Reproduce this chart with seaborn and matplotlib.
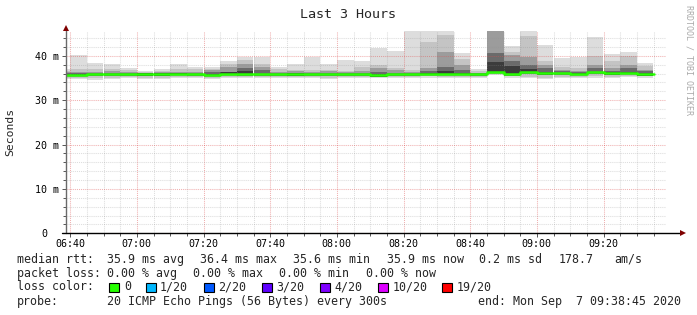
import matplotlib
matplotlib.use("Agg")
import matplotlib.pyplot as plt
import numpy as np
import seaborn as sns
from matplotlib.patches import Rectangle
from matplotlib.transforms import ScaledTranslation

# ---------------- data ----------------
title = "Last 3 Hours"
y_label = "Seconds"
first_bar = "06:35"          # start of first (clipped) 300 s step
step_min = 5                 # probe step: 300 s
view_start = "06:38:45"
view_end = "09:38:45"
y_top = 45.6                 # ms

# median rtt per step (ms)
med = [35.75, 35.75, 35.8, 35.8, 35.85, 35.9, 35.9, 35.95, 35.85, 35.75, 35.95, 35.85,
       35.85, 35.8, 35.9, 35.8, 35.8, 35.85, 35.8, 35.65, 35.8, 35.8, 35.95, 35.95,
       36.0, 35.8, 36.35, 35.85, 36.3, 36.2, 36.05, 35.95, 36.25, 36.1, 36.2, 35.9]
# smoke layers (outer -> inner): upper bounds (ms)
hi1 = [37.0, 40.2, 38.45, 38.15, 37.3, 36.65, 36.95, 38.15, 37.55, 37.4, 38.9, 39.65,
       39.65, 37.55, 38.15, 39.8, 38.15, 39.1, 38.9, 41.8, 41.1, 45.5, 45.5, 45.5,
       40.6, 37.0, 45.5, 42.3, 45.5, 42.45, 39.6, 39.8, 44.2, 40.4, 40.9, 38.45]
hi2 = [36.5, 36.95, 36.95, 36.95, 36.7, 36.4, 36.6, 36.95, 36.95, 36.95, 38.15, 39.05,
       38.15, 36.95, 36.8, 36.8, 36.8, 36.6, 37.4, 37.9, 37.2, 36.8, 43.2, 44.7,
       39.4, 36.5, 45.5, 40.9, 44.4, 38.9, 37.55, 37.25, 40.0, 38.85, 40.0, 37.7]
hi3 = [36.3, 36.4, 36.4, 36.5, 36.3, 36.2, 36.3, 36.4, 36.3, 36.8, 37.4, 38.2,
       37.55, 36.4, 36.5, 36.3, 36.5, 36.3, 36.6, 37.35, 36.8, 36.4, 37.2, 40.9,
       37.9, 36.2, 45.5, 40.1, 39.65, 37.9, 36.9, 36.6, 38.0, 37.2, 38.0, 36.9]
hi4 = [36.1, 36.2, 36.2, 36.2, 36.2, 36.1, 36.2, 36.2, 36.2, 36.3, 36.45, 37.25,
       36.8, 36.2, 36.2, 36.2, 36.2, 36.2, 36.2, 36.45, 36.2, 36.2, 36.6, 37.55,
       36.9, 36.2, 40.6, 38.8, 37.9, 37.25, 36.5, 36.4, 37.25, 36.6, 37.25, 36.6]
hi5 = [35.9, 35.9, 35.95, 35.95, 36.0, 36.05, 36.05, 36.1, 36.0, 35.9, 36.4, 36.6,
       36.0, 35.95, 36.05, 35.95, 35.95, 36.0, 35.95, 35.8, 35.95, 35.95, 36.1, 36.6,
       36.15, 35.95, 38.6, 37.7, 37.0, 36.35, 36.2, 36.1, 36.4, 36.25, 36.35, 36.05]
# lower bounds (ms)
lo1 = [34.8, 34.7, 34.55, 34.7, 34.9, 34.8, 34.8, 35.1, 34.9, 34.8, 35.0, 35.0,
       34.9, 35.0, 34.9, 35.0, 34.8, 35.0, 34.9, 35.0, 35.0, 35.0, 35.1, 34.9,
       35.0, 34.9, 35.6, 35.1, 34.9, 34.8, 35.0, 34.9, 35.1, 34.9, 35.2, 35.1]
lo2 = [35.1, 35.0, 34.9, 35.0, 35.2, 35.1, 35.1, 35.3, 35.2, 35.1, 35.3, 35.3,
       35.2, 35.3, 35.2, 35.3, 35.1, 35.3, 35.2, 35.2, 35.3, 35.3, 35.4, 35.2,
       35.3, 35.2, 35.8, 35.4, 35.2, 35.1, 35.3, 35.2, 35.4, 35.2, 35.5, 35.4]
lo3 = [35.3, 35.3, 35.35, 35.35, 35.4, 35.35, 35.45, 35.5, 35.4, 35.3, 35.5, 35.4,
       35.4, 35.35, 35.4, 35.35, 35.35, 35.4, 35.35, 35.2, 35.35, 35.35, 35.5, 35.5,
       35.55, 35.35, 35.95, 35.4, 35.85, 35.75, 35.6, 35.5, 35.8, 35.6, 35.75, 35.45]
lo4 = [35.45, 35.45, 35.5, 35.5, 35.55, 35.5, 35.55, 35.65, 35.55, 35.45, 35.65, 35.55,
       35.55, 35.5, 35.55, 35.5, 35.5, 35.55, 35.5, 35.35, 35.5, 35.5, 35.65, 35.65,
       35.7, 35.5, 36.05, 35.55, 36.0, 35.9, 35.75, 35.65, 35.95, 35.75, 35.9, 35.6]
lo5 = [35.6, 35.6, 35.65, 35.65, 35.7, 35.45, 35.45, 35.8, 35.7, 35.6, 35.8, 35.7,
       35.7, 35.65, 35.45, 35.65, 35.65, 35.7, 35.65, 35.2, 35.65, 35.65, 35.8, 35.8,
       35.85, 35.65, 36.2, 35.7, 36.15, 35.75, 35.9, 35.8, 36.1, 35.65, 36.05, 35.45]

y_ticks = [0, 10, 20, 30, 40]
y_tick_labels = ["0", "10 m", "20 m", "30 m", "40 m"]
x_tick_labels = ["06:40", "07:00", "07:20", "07:40", "08:00", "08:20", "08:40", "09:00", "09:20"]

stat_rtt = ["median rtt:", "35.9 ms avg", "36.4 ms max", "35.6 ms min", "35.9 ms now",
            "0.2 ms sd", "178.7", "am/s"]
stat_loss = ["packet loss:", "0.00 % avg", "0.00 % max", "0.00 % min", "0.00 % now"]
loss_title = "loss color:"
loss_labels = ["0", "1/20", "2/20", "3/20", "4/20", "10/20", "19/20"]
loss_colors = ["#26ff00", "#00b8ff", "#0059ff", "#5e00ff", "#7e00ff", "#dd00ff", "#ff0000"]
probe_line = ["probe:", "20 ICMP Echo Pings (56 Bytes) every 300s",
              "end: Mon Sep  7 09:38:45 2020"]
watermark = "RRDTOOL / TOBI OETIKER"

# ---------------- styling ----------------
sns.set_theme(style="white")
plt.rcParams["font.family"] = ["DejaVu Sans Mono", "DejaVu Sans"]

W, H = 697, 315


def tmin(s):
    parts = [int(p) for p in s.split(":")]
    v = parts[0] * 60 + parts[1] - 360
    if len(parts) > 2:
        v += parts[2] / 60.0
    return v


def fx(x):
    return x / W


def fy(y):
    return 1 - y / H


fig = plt.figure(figsize=(W / 100, H / 100), dpi=100)
fig.patch.set_facecolor("white")
ax_l, ax_r, ax_b, ax_t = 66, 666, 233.3, 31
ax = fig.add_axes([fx(ax_l), fy(ax_b), (ax_r - ax_l) / W, (ax_b - ax_t) / H])
ax.set_facecolor("white")

n = len(med)
starts = np.array([tmin(first_bar) + step_min * i for i in range(n)], dtype=float)

layers = [(lo1, hi1, "#dddddd"), (lo2, hi2, "#c4c4c4"), (lo3, hi3, "#9c9c9c"),
          (lo4, hi4, "#6b6b6b"), (lo5, hi5, "#3c3c3c")]
for lo, hi, col in layers:
    lo = np.array(lo)
    hi = np.array(hi)
    ax.bar(starts, hi - lo, bottom=lo, width=step_min, align="edge",
           color=col, linewidth=0, zorder=1)

edges = np.append(starts, starts[-1] + step_min)
sns.lineplot(x=edges, y=list(med) + [med[-1]], drawstyle="steps-post",
             color=loss_colors[0], linewidth=1.8, estimator=None, sort=False,
             ax=ax, zorder=4)

ax.set_xlim(tmin(view_start), tmin(view_end))
ax.set_ylim(0, y_top)

# ticks & grid
x_major = [tmin(s) for s in x_tick_labels]
ax.set_xticks(x_major)
ax.set_xticklabels(x_tick_labels)
ax.set_xticks(np.arange(x_major[0], tmin(view_end), 5), minor=True)
ax.set_yticks(y_ticks)
ax.set_yticklabels(y_tick_labels)
ax.set_yticks(np.arange(0, y_top, 2), minor=True)

ax.set_axisbelow(False)
ax.grid(which="major", color="#de5050", alpha=0.45, linestyle=(0, (1, 1)), linewidth=0.75)
ax.grid(which="minor", color="#8f8f8f", alpha=0.3, linestyle=(0, (1, 1)), linewidth=0.75)
ax.tick_params(axis="both", which="both", labelsize=7.2, labelcolor="black",
               colors="#555555", direction="out", width=0.7)
ax.tick_params(axis="y", which="major", length=3, pad=2.2, left=True)
ax.tick_params(axis="y", which="minor", length=2, left=True)
ax.tick_params(axis="x", which="major", length=3, pad=1.2, bottom=True)
ax.tick_params(axis="x", which="minor", length=2, bottom=True)
for s in ax.spines.values():
    s.set_visible(False)
ax.set_xlabel("")
ax.set_ylabel("")

# shift the "0" label as in the reference
lab0 = ax.get_yticklabels()[0]
lab0.set_transform(lab0.get_transform() + ScaledTranslation(-11 / 100, 0, fig.dpi_scale_trans))

# axis lines with arrows
ax.plot([0, 0], [0, (ax_b - 29) / (ax_b - ax_t)], transform=ax.transAxes,
        color="#6a6a6a", lw=1.0, clip_on=False, zorder=5)
ax.plot([-4 / 600, (681 - ax_l) / 600], [0, 0], transform=ax.transAxes,
        color="black", lw=1.0, clip_on=False, zorder=5)
ax.plot([0], [(ax_b - 28) / (ax_b - ax_t)], transform=ax.transAxes, marker="^",
        ms=4.5, color="#7f0000", clip_on=False, zorder=6, mew=0)
ax.plot([(683 - ax_l) / 600], [0], transform=ax.transAxes, marker=">",
        ms=4.5, color="#7f0000", clip_on=False, zorder=6, mew=0)

# titles
fig.text(fx(348.5), fy(14), title, ha="center", va="center", fontsize=9.6)
fig.text(fx(10.5), fy(132), y_label, ha="center", va="center", rotation=90, fontsize=8.2)
fig.text(fx(689), fy(5), watermark, ha="center", va="top", rotation=270,
         fontsize=6, color="#aaaaaa")

# legend lines
LF = 8.4
rtt_x = [16.7, 107.3, 200, 293.3, 386.7, 479.3, 558.3, 614]
for s, x in zip(stat_rtt, rtt_x):
    fig.text(fx(x), fy(259.3), s, ha="left", va="center", fontsize=LF)
loss_x = [16.7, 107.3, 193.3, 279.3, 365.7]
for s, x in zip(stat_loss, loss_x):
    fig.text(fx(x), fy(273.3), s, ha="left", va="center", fontsize=LF)
fig.text(fx(16.7), fy(287), loss_title, ha="left", va="center", fontsize=LF)
box_x = [109, 146, 204, 261.7, 320, 377.7, 442.3]
lab_x = [124, 160, 218.3, 276, 334, 392.3, 456.7]
for lbl, col, bx, lx in zip(loss_labels, loss_colors, box_x, lab_x):
    fig.add_artist(Rectangle((fx(bx), fy(292)), 10 / W, 9.5 / H, transform=fig.transFigure,
                             facecolor=col, edgecolor="black", linewidth=0.8))
    fig.text(fx(lx), fy(287), lbl, ha="left", va="center", fontsize=LF)
fig.text(fx(16.7), fy(301), probe_line[0], ha="left", va="center", fontsize=LF)
fig.text(fx(107.3), fy(301), probe_line[1], ha="left", va="center", fontsize=LF)
fig.text(fx(478.3), fy(301), probe_line[2], ha="left", va="center", fontsize=LF)

fig.savefig("out.png", dpi=100, facecolor="white")
